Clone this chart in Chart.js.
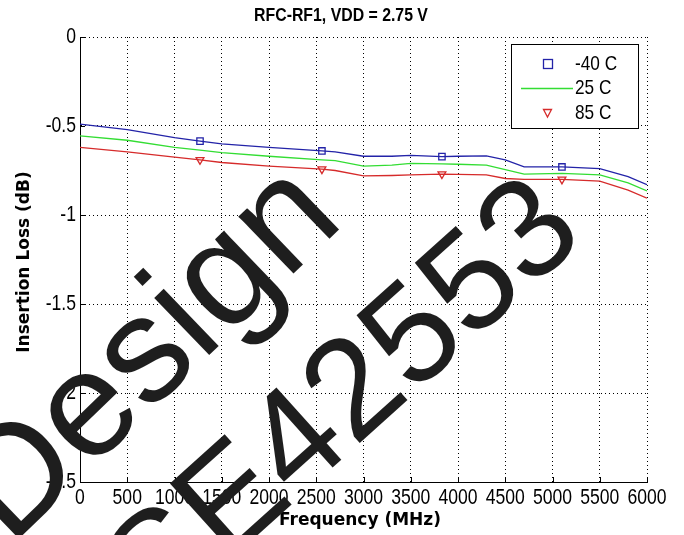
<!DOCTYPE html>
<html>
<head>
<meta charset="utf-8">
<script src="https://cdn.jsdelivr.net/npm/chart.js@4/dist/chart.umd.min.js"></script>
<style>
  html, body { margin: 0; padding: 0; background: #fff; }
  #wrap { width: 684px; height: 535px; }
</style>
</head>
<body>
<div id="wrap"><canvas id="loss-chart" width="684" height="535"></canvas></div>
<script>
// frequency points (MHz) and insertion loss (dB) per temperature
const freqs   = [0, 500, 1000, 1270, 1500, 2000, 2560, 2700, 3000, 3300, 3500, 3830, 4000, 4300, 4500, 4700, 5100, 5500, 5800, 6000];
const loss40  = [-0.49, -0.52, -0.565, -0.585, -0.6, -0.62, -0.64, -0.645, -0.67, -0.67, -0.665, -0.672, -0.67, -0.668, -0.69, -0.73, -0.73, -0.74, -0.785, -0.83];
const loss25  = [-0.555, -0.58, -0.62, -0.635, -0.65, -0.67, -0.69, -0.695, -0.725, -0.72, -0.71, -0.713, -0.715, -0.72, -0.745, -0.77, -0.766, -0.775, -0.82, -0.865];
const loss85  = [-0.62, -0.645, -0.675, -0.69, -0.705, -0.725, -0.742, -0.75, -0.78, -0.778, -0.775, -0.77, -0.772, -0.775, -0.795, -0.8, -0.8, -0.81, -0.86, -0.905];
const markerFreqs = [1270, 2560, 3830, 5100];
const seriesNames = ["-40 C", "25 C", "85 C"];
const xTicks = [0, 500, 1000, 1500, 2000, 2500, 3000, 3500, 4000, 4500, 5000, 5500, 6000];
const yTicks = [0, -0.5, -1, -1.5, -2, -2.5];

const BLUE = "#2323a8", GREEN = "#33dd33", RED = "#d62b2b";
const SANS = "'Liberation Sans', Arial, sans-serif";
const WIDE = "'DejaVu Sans', Verdana, sans-serif";

function pts(ys) {
  return freqs.map((f, i) => ({ x: f, y: ys[i] }));
}
function markerRadius(ctx) {
  return markerFreqs.includes(freqs[ctx.dataIndex]) ? 4.5 : 0;
}

// Liberation Sans squeezed sideways, to look like the narrow Matlab font
function narrowText(c, text, x, y, sx) {
  c.save();
  c.translate(x, y);
  c.scale(sx, 1);
  c.fillText(text, 0, 0);
  c.restore();
}

// tick labels, titles, tick marks, legend box and watermark
const decor = {
  id: "decor",
  afterDraw(chart) {
    const c = chart.ctx;
    const a = chart.chartArea;
    const xs = chart.scales.x, ys = chart.scales.y;
    c.save();
    // inward tick marks
    c.strokeStyle = "#000";
    c.lineWidth = 1;
    c.beginPath();
    xs.ticks.forEach(t => {
      const x = Math.round(xs.getPixelForValue(t.value)) + 0.5;
      c.moveTo(x, a.bottom); c.lineTo(x, a.bottom - 5);
    });
    ys.ticks.forEach(t => {
      const y = Math.round(ys.getPixelForValue(t.value)) + 0.5;
      c.moveTo(a.left, y); c.lineTo(a.left + 5, y);
    });
    c.stroke();

    // tick labels
    c.fillStyle = "#000";
    c.textBaseline = "middle";
    c.font = "22px " + SANS;
    c.textAlign = "center";
    xs.ticks.forEach(t => narrowText(c, String(t.value), xs.getPixelForValue(t.value), a.bottom + 16, 0.8));
    c.textAlign = "right";
    ys.ticks.forEach(t => narrowText(c, String(t.value), a.left - 4, ys.getPixelForValue(t.value), 0.8));

    // titles
    c.textAlign = "center";
    c.font = "bold 18px " + SANS;
    narrowText(c, "RFC-RF1, VDD = 2.75 V", 341, 16, 0.88);
    c.font = "bold 17px " + WIDE;
    c.fillText("Frequency (MHz)", 360, 521);
    c.save();
    c.translate(25, 262);
    c.rotate(-Math.PI / 2);
    c.fillText("Insertion Loss (dB)", 0, 0);
    c.restore();

    // legend
    const lx = 511, ly = 44, lw = 127, lh = 84;
    c.fillStyle = "#fff";
    c.fillRect(lx, ly, lw, lh);
    c.strokeStyle = "#000";
    c.strokeRect(lx + 0.5, ly + 0.5, lw, lh);
    const rows = [64, 88, 113];
    c.font = "21px " + SANS;
    c.textAlign = "left";
    c.fillStyle = "#000";
    seriesNames.forEach((n, i) => narrowText(c, n, 575, rows[i], 0.82));
    c.lineWidth = 1.3;
    c.strokeStyle = BLUE;
    c.strokeRect(543.5, rows[0] - 4.5, 9, 9);
    c.strokeStyle = GREEN;
    c.beginPath(); c.moveTo(521, rows[1] + 0.5); c.lineTo(573, rows[1] + 0.5); c.stroke();
    c.strokeStyle = RED;
    c.beginPath();
    c.moveTo(543.5, rows[2] - 3.5); c.lineTo(551.5, rows[2] - 3.5); c.lineTo(547.5, rows[2] + 4); c.closePath();
    c.stroke();

    // watermark
    c.fillStyle = "#1e1e1e";
    c.textAlign = "center";
    c.textBaseline = "alphabetic";
    c.font = "150px " + SANS;
    c.save();
    c.translate(178, 385);
    c.rotate(-44 * Math.PI / 180);
    c.fillText("Design", 0, 0);
    c.restore();
    c.font = "141px " + SANS;
    c.save();
    c.translate(372, 432);
    c.rotate(-42 * Math.PI / 180);
    c.fillText("SE42553", 0, 0);
    c.restore();
    c.restore();
  }
};

const gridOpts = { color: "#000", lineWidth: 1, drawTicks: false };
const borderOpts = { display: true, color: "#000", width: 1, dash: [1, 3] };

new Chart(document.getElementById("loss-chart"), {
  type: "line",
  data: {
    datasets: [
      { label: seriesNames[0], data: pts(loss40), borderColor: BLUE, backgroundColor: "rgba(0,0,0,0)",
        borderWidth: 1.3, pointStyle: "rect", pointRadius: markerRadius, pointBorderColor: BLUE, pointBorderWidth: 1.3 },
      { label: seriesNames[1], data: pts(loss25), borderColor: GREEN, backgroundColor: "rgba(0,0,0,0)",
        borderWidth: 1.3, pointRadius: 0 },
      { label: seriesNames[2], data: pts(loss85), borderColor: RED, backgroundColor: "rgba(0,0,0,0)",
        borderWidth: 1.3, pointStyle: "triangle", rotation: 180, pointRadius: markerRadius, pointBorderColor: RED, pointBorderWidth: 1.3 }
    ]
  },
  options: {
    responsive: false,
    animation: false,
    layout: { padding: { top: 37, right: 37, left: 0, bottom: 0 } },
    plugins: { legend: { display: false }, title: { display: false }, tooltip: { enabled: false } },
    elements: { line: { tension: 0 } },
    scales: {
      x: {
        type: "linear", min: 0, max: 6000,
        afterBuildTicks: s => { s.ticks = xTicks.map(v => ({ value: v })); },
        afterFit: s => { s.height = 53; },
        grid: gridOpts,
        border: borderOpts,
        ticks: { display: false }
      },
      y: {
        min: -2.5, max: 0,
        afterBuildTicks: s => { s.ticks = yTicks.map(v => ({ value: v })); },
        afterFit: s => { s.width = 80; },
        grid: gridOpts,
        border: borderOpts,
        ticks: { display: false }
      }
    }
  },
  plugins: [decor]
});
</script>
</body>
</html>
